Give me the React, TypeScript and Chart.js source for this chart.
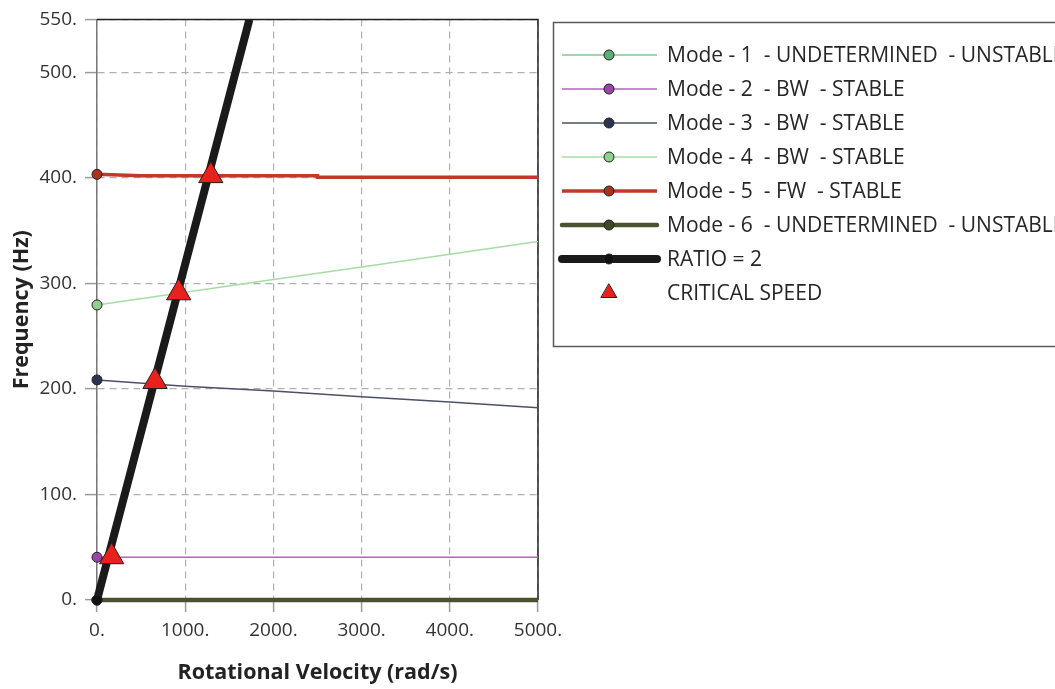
import React, { useEffect, useRef } from "react";
import { Chart, registerables } from "chart.js";

Chart.register(...registerables);

const SPEEDS = [0, 1000, 2000, 3000, 4000, 5000];
const MODE1 = [0, 0, 0, 0, 0, 0];
const MODE2 = [40.5, 40.5, 40.5, 40.5, 40.5, 40.5];
const MODE3 = [208.5, 202.5, 198, 192.5, 187.5, 182];
const MODE4 = [279.5, 291.5, 303.5, 315.5, 327.5, 339.5];
const MODE5_SPEEDS = [0, 500, 2500, 2500, 5000];
const MODE5 = [403.2, 402, 402, 400.5, 400.5];
const MODE6 = [0, 0, 0, 0, 0, 0];
const RATIO_SPEEDS = [0, 1728];
const RATIO = [0, 550];
const CRIT_SPEEDS = [166, 658, 926, 1290];
const CRIT_FREQ = [41, 207, 291, 402];
const X_TICKS = [0, 1000, 2000, 3000, 4000, 5000];
const Y_TICKS = [0, 100, 200, 300, 400, 500, 550];

const LEGEND_LABELS = [
  "Mode - 1  - UNDETERMINED  - UNSTABLE",
  "Mode - 2  - BW  - STABLE",
  "Mode - 3  - BW  - STABLE",
  "Mode - 4  - BW  - STABLE",
  "Mode - 5  - FW  - STABLE",
  "Mode - 6  - UNDETERMINED  - UNSTABLE",
  "RATIO = 2",
  "CRITICAL SPEED",
];

const STYLES = [
  { line: "#7cc88c", width: 1.5, marker: "#5fae73" },
  { line: "#b463bd", width: 1.5, marker: "#9b45a6" },
  { line: "#4a5068", width: 1.5, marker: "#2c3550" },
  { line: "#a6dca6", width: 1.5, marker: "#8fd08f" },
  { line: "#c0392b", width: 3.5, marker: "#a8321e" },
  { line: "#4b5230", width: 4.5, marker: "#3e4a26" },
  { line: "#1a1a1a", width: 8, marker: "#111111" },
];

const FONT = "'Open Sans', 'Noto Sans', sans-serif";

function pts(xs: number[], ys: number[]) {
  return xs.map((x, i) => ({ x, y: ys[i] }));
}

function lineDs(label: string, data: any[], s: any, order: number) {
  return {
    label,
    data,
    borderColor: s.line,
    backgroundColor: s.marker,
    borderWidth: s.width,
    pointRadius: data.map((_: any, i: number) => (i === 0 ? 5 : 0)),
    pointBorderColor: "#222",
    pointBorderWidth: 1,
    pointBackgroundColor: s.marker,
    tension: 0,
    order,
    clip: { left: 12, top: 0, right: 0, bottom: 12 },
  };
}

const framePlugin = {
  id: "frame",
  beforeDatasetsDraw(chart: any) {
    const { ctx, chartArea } = chart;
    ctx.save();
    ctx.strokeStyle = "#222";
    ctx.lineWidth = 1.5;
    ctx.beginPath();
    ctx.moveTo(chartArea.left, chartArea.top);
    ctx.lineTo(chartArea.right, chartArea.top);
    ctx.lineTo(chartArea.right, chartArea.bottom);
    ctx.stroke();
    ctx.restore();
  },
};

const legendPlugin = {
  id: "customLegend",
  afterDraw(chart: any) {
    const ctx = chart.ctx;
    ctx.save();
    ctx.strokeStyle = "#5a5a5a";
    ctx.lineWidth = 1.5;
    ctx.strokeRect(553.5, 22.5, 620, 324);
    const x0 = 562;
    const x1 = 657;
    const mx = 609;
    ctx.font = `21px ${FONT}`;
    ctx.textBaseline = "middle";
    ctx.textAlign = "left";
    LEGEND_LABELS.forEach((label, i) => {
      const y = 55 + i * 34;
      if (i < STYLES.length) {
        const s = STYLES[i];
        ctx.strokeStyle = s.line;
        ctx.lineWidth = s.width;
        ctx.lineCap = i >= 5 ? "round" : "butt";
        ctx.beginPath();
        ctx.moveTo(x0, y);
        ctx.lineTo(x1, y);
        ctx.stroke();
        ctx.beginPath();
        ctx.arc(mx, y, 5, 0, Math.PI * 2);
        ctx.fillStyle = s.marker;
        ctx.fill();
        ctx.lineWidth = 1;
        ctx.strokeStyle = "#222";
        ctx.stroke();
      } else {
        const r = 9;
        ctx.beginPath();
        ctx.moveTo(mx, y - r);
        ctx.lineTo(mx + r * 0.866, y + r / 2);
        ctx.lineTo(mx - r * 0.866, y + r / 2);
        ctx.closePath();
        ctx.fillStyle = "#e8211d";
        ctx.fill();
        ctx.lineWidth = 1;
        ctx.strokeStyle = "#222";
        ctx.stroke();
      }
      ctx.fillStyle = "#262626";
      ctx.fillText(label, 667, y + 1);
    });
    ctx.restore();
  },
};

export default function App() {
  const ref = useRef<HTMLCanvasElement | null>(null);

  useEffect(() => {
    document.body.style.margin = "0";
    const canvas = ref.current;
    if (!canvas) return;
    const gridCommon = {
      color: "#b0b0b0",
      lineWidth: 1.2,
      tickLength: 12,
      tickColor: "#9a9a9a",
      tickWidth: 1.5,
      tickBorderDash: [],
    };
    const chart = new Chart(canvas, {
      type: "line",
      data: {
        datasets: [
          {
            label: "CRITICAL SPEED",
            data: pts(CRIT_SPEEDS, CRIT_FREQ),
            showLine: false,
            pointStyle: "triangle",
            pointRadius: 14,
            pointBackgroundColor: "#e8211d",
            pointBorderColor: "#2a1a1a",
            pointBorderWidth: 1,
            order: 0,
            clip: false,
          } as any,
          lineDs("RATIO = 2", pts(RATIO_SPEEDS, RATIO), STYLES[6], 1),
          lineDs(LEGEND_LABELS[5], pts(SPEEDS, MODE6), STYLES[5], 2),
          lineDs(LEGEND_LABELS[4], pts(MODE5_SPEEDS, MODE5), STYLES[4], 3),
          lineDs(LEGEND_LABELS[3], pts(SPEEDS, MODE4), STYLES[3], 4),
          lineDs(LEGEND_LABELS[2], pts(SPEEDS, MODE3), STYLES[2], 5),
          lineDs(LEGEND_LABELS[1], pts(SPEEDS, MODE2), STYLES[1], 6),
          lineDs(LEGEND_LABELS[0], pts(SPEEDS, MODE1), STYLES[0], 7),
        ],
      },
      options: {
        animation: false,
        responsive: false,
        events: [],
        layout: { padding: { top: 12, right: 517, left: 0, bottom: 0 } },
        plugins: {
          legend: { display: false },
          tooltip: { enabled: false },
        },
        scales: {
          x: {
            type: "linear",
            min: 0,
            max: 5000,
            afterBuildTicks: (s: any) => {
              s.ticks = X_TICKS.map((v) => ({ value: v }));
            },
            afterFit: (s: any) => {
              s.height = 89;
            },
            ticks: {
              callback: (v: any) => `${v}.`,
              font: { family: FONT, size: 19 },
              color: "#333",
              padding: 7,
              maxRotation: 0,
              autoSkip: false,
            },
            grid: gridCommon,
            border: { color: "#444", width: 1.5, dash: [7, 5] },
            title: {
              display: true,
              text: "Rotational Velocity (rad/s)",
              font: { family: FONT, size: 21.5, weight: "bold" },
              color: "#222",
              padding: { top: 0, bottom: 3 },
            },
          },
          y: {
            type: "linear",
            min: 0,
            max: 550,
            afterBuildTicks: (s: any) => {
              s.ticks = Y_TICKS.map((v) => ({ value: v }));
            },
            afterFit: (s: any) => {
              s.width = 97;
            },
            ticks: {
              callback: (v: any) => `${v}.`,
              font: { family: FONT, size: 19 },
              color: "#333",
              padding: 8,
              autoSkip: false,
            },
            grid: gridCommon,
            border: { color: "#777", width: 1.5, dash: [7, 5] },
            title: {
              display: true,
              text: "Frequency (Hz)",
              font: { family: FONT, size: 21.5, weight: "bold" },
              color: "#222",
              padding: { top: 9, bottom: 0 },
            },
          },
        },
      } as any,
      plugins: [framePlugin, legendPlugin],
    });
    return () => chart.destroy();
  }, []);

  return (
    <canvas
      ref={ref}
      width={1055}
      height={689}
      style={{ display: "block", position: "absolute", left: 0, top: 0 }}
    />
  );
}
